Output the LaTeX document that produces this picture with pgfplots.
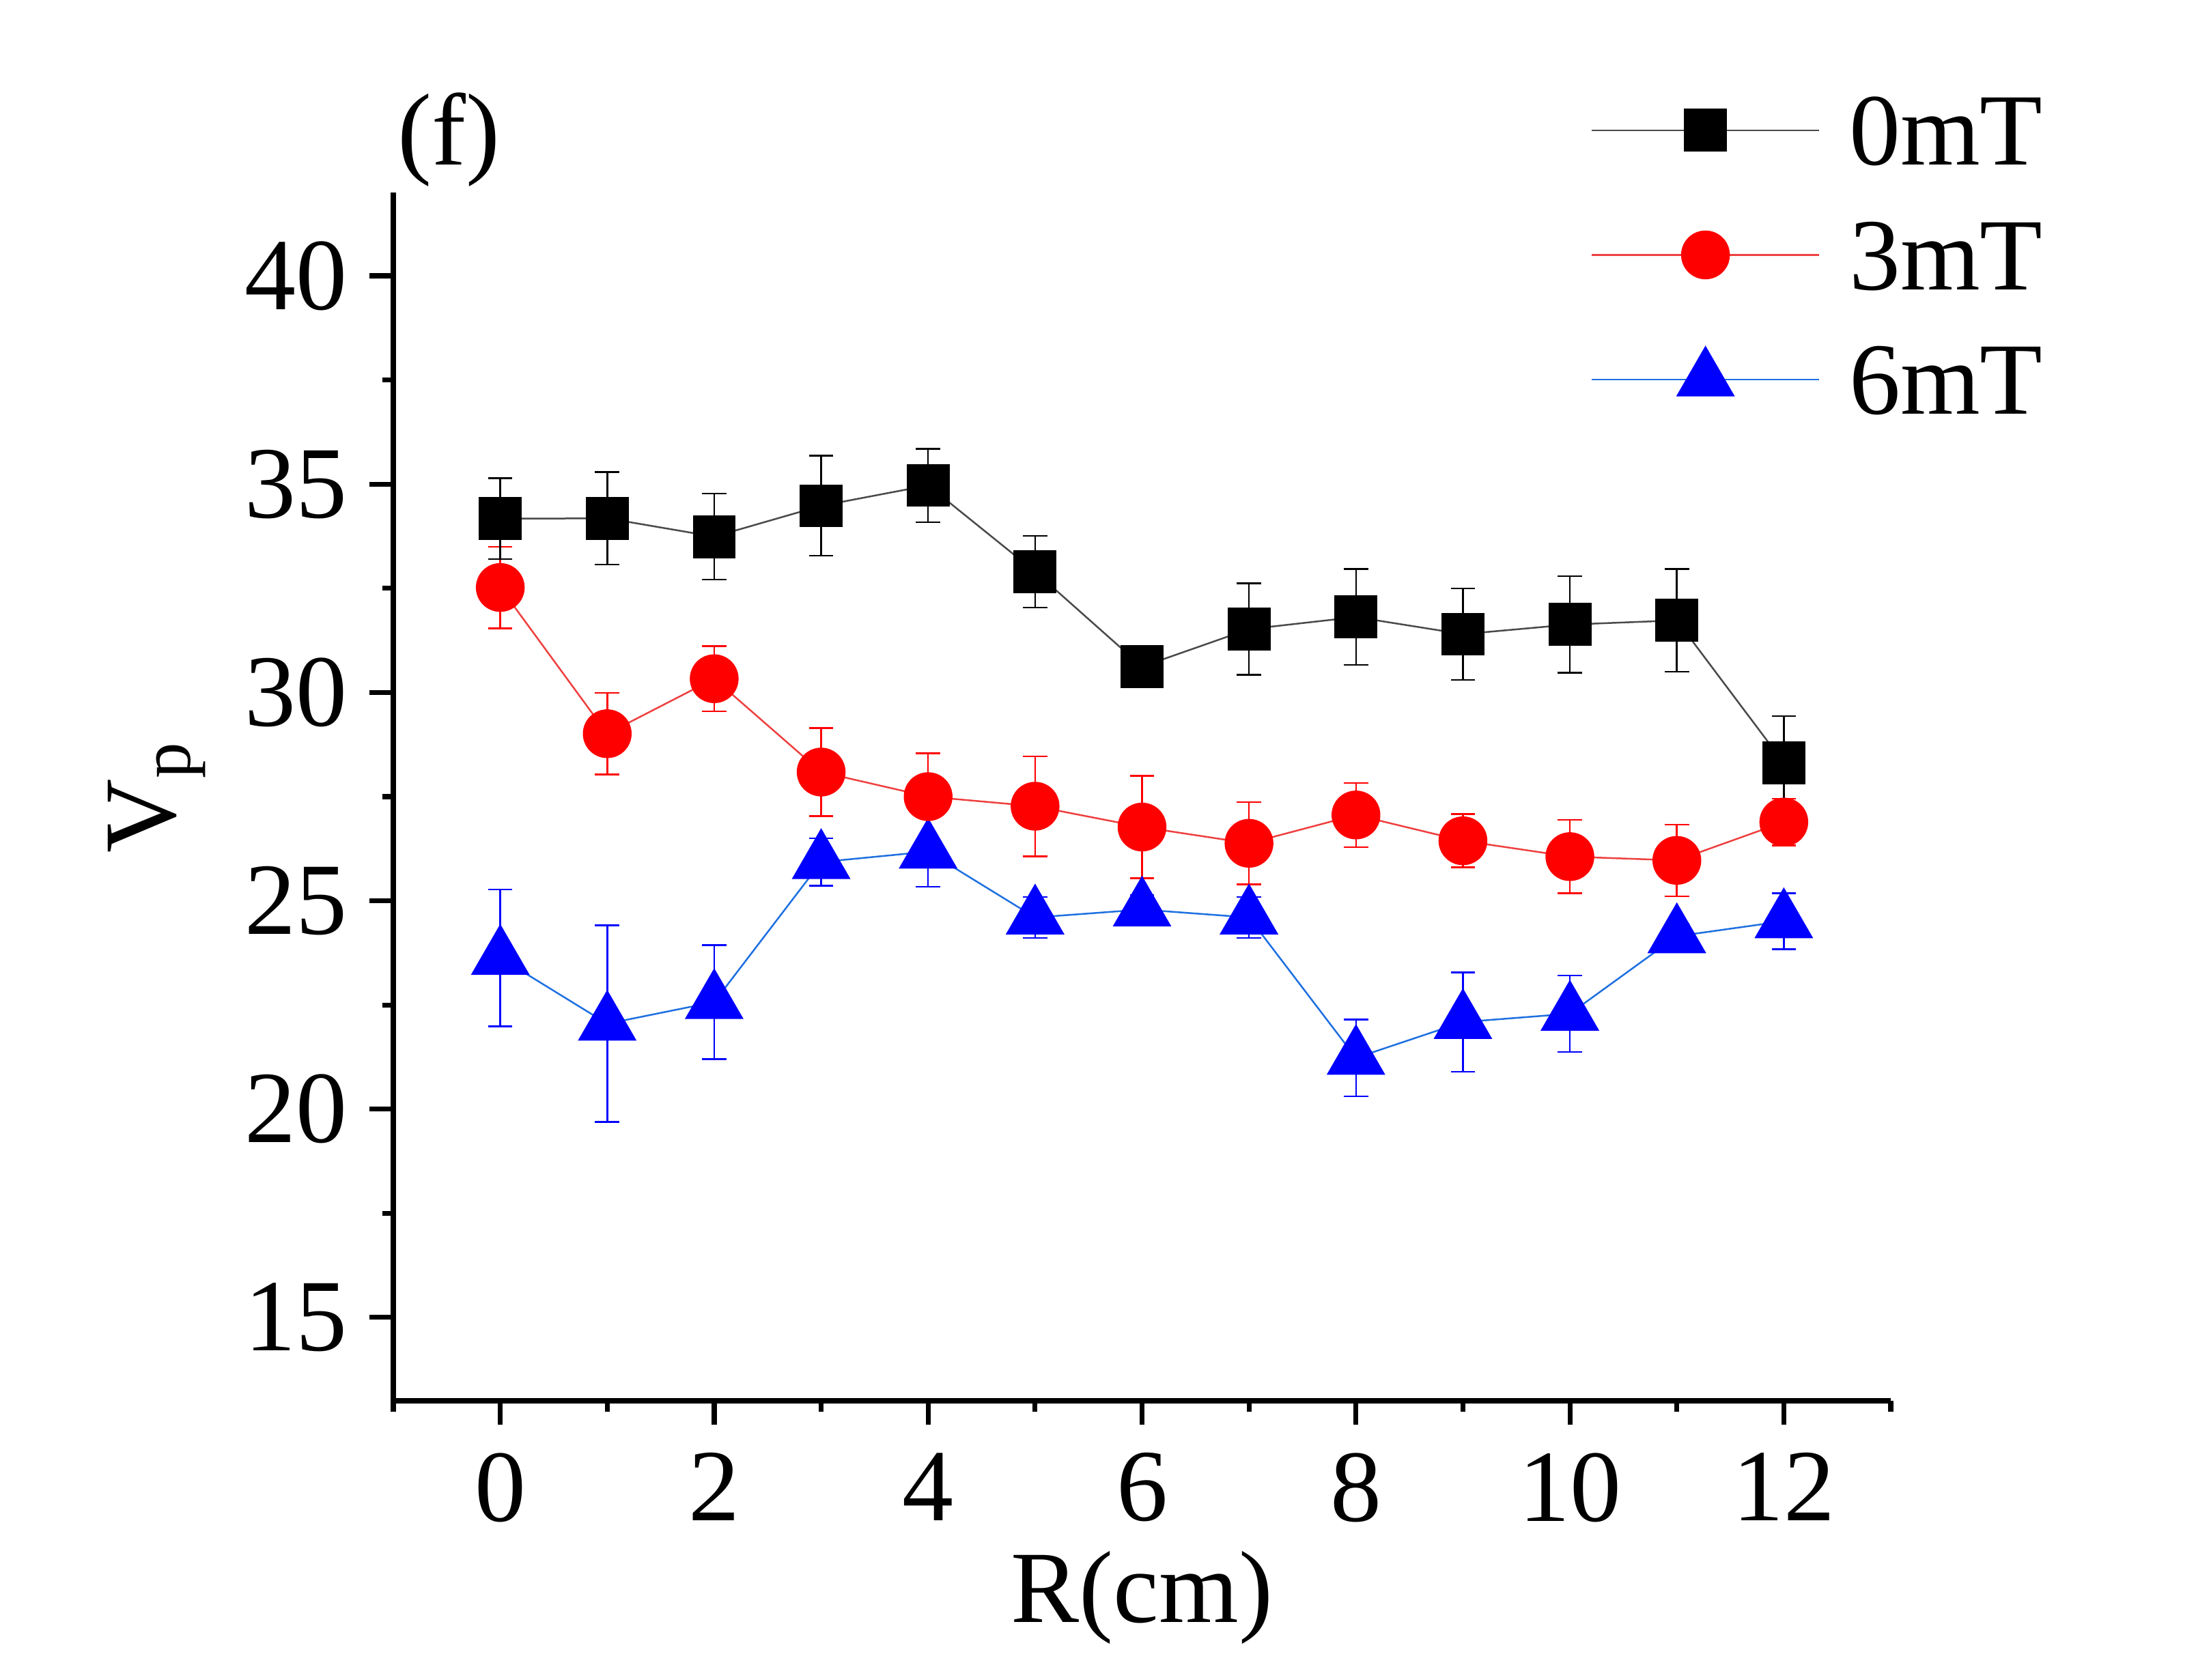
\documentclass[border=0pt]{standalone}
\usepackage{pgfplots}
\pgfplotsset{compat=1.18}
\usepackage{pgfplotstable}
\usepackage{fontspec}
\setmainfont{Liberation Serif}
\definecolor{lineblack}{HTML}{4A4A4A}
\definecolor{linered}{HTML}{EE4040}
\definecolor{lineblue}{HTML}{1E70E0}
\newcommand{\bigfont}{\fontsize{21}{25}\selectfont}

\pgfplotstableread{
x y e
0 34.17 0.97
1 34.18 1.11
2 33.74 1.03
3 34.48 1.20
4 34.97 0.88
5 32.90 0.86
6 30.62 0.50
7 31.52 1.10
8 31.81 1.15
9 31.40 1.10
10 31.63 1.16
11 31.73 1.23
12 28.31 1.12
}\dataA
\pgfplotstableread{
x y e
0 32.52 0.98
1 29.01 0.98
2 30.33 0.78
3 28.09 1.06
4 27.50 1.04
5 27.27 1.20
6 26.77 1.23
7 26.38 0.99
8 27.06 0.77
9 26.44 0.64
10 26.06 0.88
11 25.97 0.86
12 26.89 0.56
}\dataB
\pgfplotstableread{
x y e
0 23.63 1.64
1 22.05 2.36
2 22.57 1.37
3 25.93 0.57
4 26.18 0.84
5 24.60 0.49
6 24.79 0.35
7 24.60 0.49
8 21.23 0.92
9 22.09 1.19
10 22.29 0.92
11 24.15 0.30
12 24.51 0.67
}\dataC

\begin{document}
\begin{tikzpicture}
\begin{axis}[
  at={(80.64pt,57.26pt)}, anchor=south west,
  scale only axis, width=307.02pt, height=247.8pt,
  xmin=-1, xmax=13, ymin=13, ymax=42,
  axis x line*=bottom, axis y line*=left,
  axis line style={line width=1pt, black},
  xtick={0,2,...,12}, minor xtick={-1,1,...,13},
  ytick={15,20,...,40}, minor ytick={17.5,22.5,...,37.5},
  tick align=outside,
  major tick length=4.9pt, minor tick length=2.24pt,
  tick style={line width=1pt, black},
  tick label style={font=\bigfont},
  /pgf/number format/assume math mode=true,
  xticklabel style={anchor=north, inner sep=0pt, yshift=-5.6pt},
  yticklabel style={anchor=east, inner sep=0pt, xshift=-4.4pt},
  xlabel={R(cm)}, ylabel={V\textsubscript{p}},
  label style={font=\bigfont},
  xlabel style={at={(axis description cs:0.5,0)}, anchor=base, yshift=-45.5pt, inner sep=0pt},
  ylabel style={at={(axis description cs:-0.1456,0.5)}, rotate=0, anchor=base, inner sep=0pt},
  clip=false,
  reverse legend,
  legend cell align=left,
  legend style={draw=none, fill=none, at={(rel axis cs:0.7998,1.0801)}, anchor=north west,
    inner sep=0pt, outer sep=0pt, row sep=11.35pt, column sep=6pt,
    nodes={inner sep=0pt, outer sep=0pt, text height=14.2pt, text depth=0pt, font=\bigfont}},
  legend image code/.code={\draw[mark repeat=2,mark phase=2,#1] plot coordinates {(0pt,0pt) (23.3pt,0pt) (46.6pt,0pt)};},
]
\addplot[color=lineblue, line width=0.35pt, mark=triangle*, mark size=6.75pt,
  mark options={solid, fill=blue, draw=blue, line width=0.2pt},
  error bars/.cd, y dir=both, y explicit,
  error bar style={color=blue, line width=0.35pt},
  error mark options={rotate=90, mark size=2.5pt, line width=0.35pt, color=blue}]
  table[x=x, y=y, y error=e] {\dataC};
\addlegendentry{6mT}
\addplot[color=linered, line width=0.35pt, mark=*, mark size=4.9pt,
  mark options={solid, fill=red, draw=red, line width=0.2pt},
  error bars/.cd, y dir=both, y explicit,
  error bar style={color=red, line width=0.35pt},
  error mark options={rotate=90, mark size=2.5pt, line width=0.35pt, color=red}]
  table[x=x, y=y, y error=e] {\dataB};
\addlegendentry{3mT}
\addplot[color=lineblack, line width=0.35pt, mark=square*, mark size=4.3pt,
  mark options={solid, fill=black, draw=black, line width=0.2pt},
  error bars/.cd, y dir=both, y explicit,
  error bar style={color=black, line width=0.35pt},
  error mark options={rotate=90, mark size=2.5pt, line width=0.35pt, color=black}]
  table[x=x, y=y, y error=e] {\dataA};
\addlegendentry{0mT}
\end{axis}
\node[anchor=base west, inner sep=0pt, font=\bigfont] at (81.3pt,310.7pt) {(f)};
\pgfresetboundingbox
\path[use as bounding box] (0pt,0pt) rectangle (450.24pt,344.54pt);
\end{tikzpicture}
\end{document}
